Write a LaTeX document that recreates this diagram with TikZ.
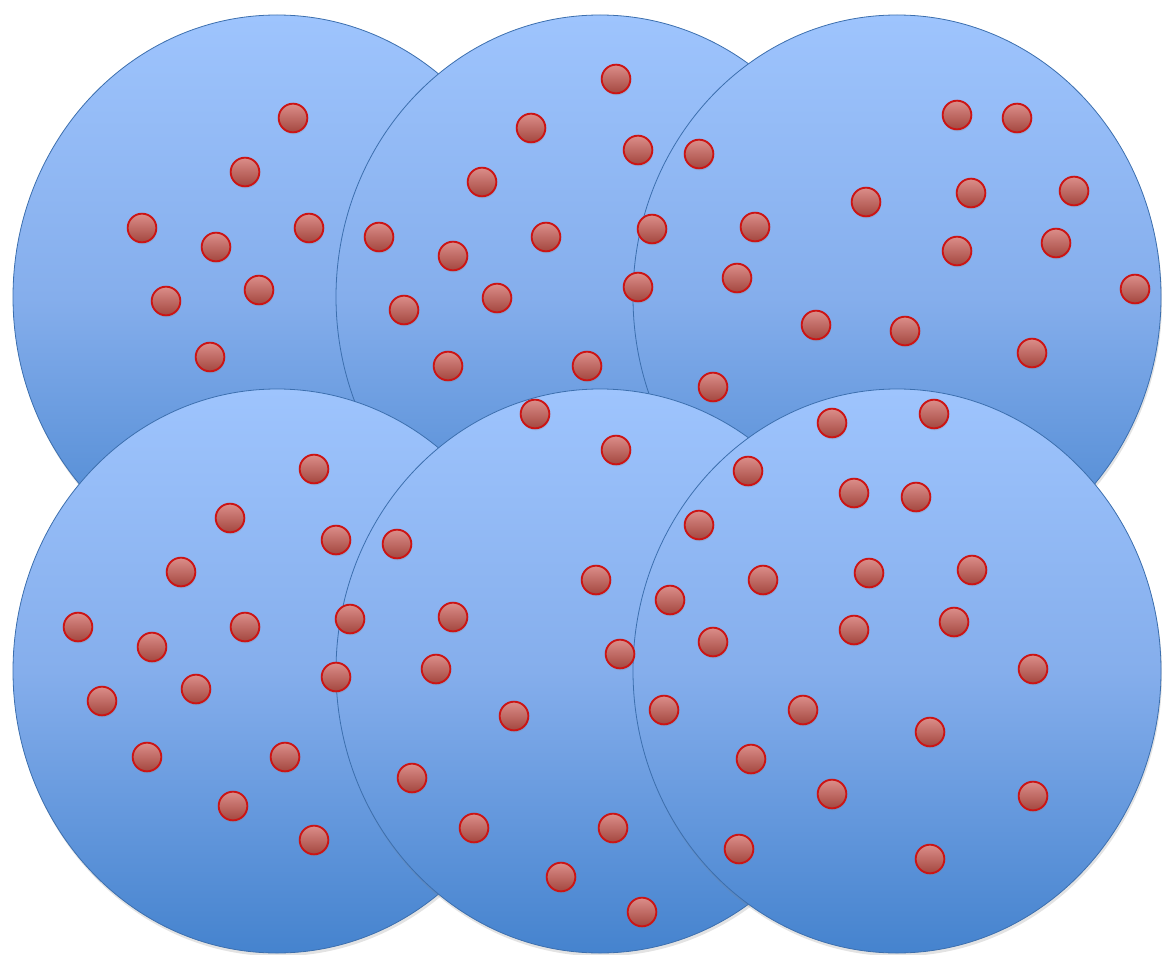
\documentclass[tikz,border=0pt]{standalone}
\usetikzlibrary{shapes.geometric,shadows}
\definecolor{blobtop}{HTML}{9EC4FD}
\definecolor{blobmid}{HTML}{85AEEC}
\definecolor{blobbot}{HTML}{4583CE}
\definecolor{blobline}{HTML}{3C6FAE}
\definecolor{dottop}{HTML}{DC8E8A}
\definecolor{dotbot}{HTML}{A3473F}
\definecolor{dotline}{HTML}{CC1414}
\tikzset{
 blob/.style={ellipse, draw=blobline, line width=0.6pt, top color=blobtop, bottom color=blobbot,
   middle color=blobmid,
   minimum width=396pt, minimum height=423pt, inner sep=0pt,
   drop shadow={shadow xshift=0.8pt, shadow yshift=-2.5pt, opacity=0.22}},
 pt/.style={circle, draw=dotline, line width=1.4pt, top color=dottop, bottom color=dotbot,
   minimum size=21.5pt, inner sep=0pt,
   drop shadow={shadow xshift=0.5pt, shadow yshift=-1.5pt, opacity=0.22}}
}
\begin{document}
\begin{tikzpicture}[x=0.75pt,y=-0.75pt]
\useasboundingbox (0,0) rectangle (1162,955);
% big groups
\node[blob] (tl) at (277,297) {};
\node[blob] (tm) at (600,297) {};
\node[blob] (tr) at (897,297) {};
\node[blob] (bl) at (277,671) {};
\node[blob] (bm) at (600,671) {};
\node[blob] (br) at (897,671) {};
% dots
\foreach \p [count=\i] in {
 % top-left
 (293,118),(245,172),(142,228),(216,247),(309,228),(166,301),(259,290),(210,357),
 % top-middle
 (616,79),(531,128),(638,150),(482,182),(379,237),(453,256),(546,237),(652,229),
 (404,310),(497,298),(638,287),(448,366),(587,366),
 % top-right
 (957,115),(1017,118),(699,154),(866,202),(971,193),(1074,191),(755,227),(1056,243),
 (957,251),(737,278),(1135,289),(816,325),(905,331),(1032,353),(713,387),
 % bottom-left
 (314,469),(230,518),(336,540),(181,572),(350,619),(78,627),(245,627),(152,647),
 (336,677),(196,689),(102,701),(147,757),(285,757),(233,806),(314,840),
 % bottom-middle
 (535,414),(616,450),(397,544),(596,580),(453,617),(620,654),(436,669),(514,716),
 (412,778),(474,828),(613,828),(561,877),(642,912),
 % bottom-right
 (832,423),(934,414),(748,471),(854,493),(916,497),(699,525),(763,580),(869,573),
 (972,570),(670,600),(854,630),(954,622),(713,642),(1033,669),(664,710),(803,710),
 (930,732),(751,759),(832,794),(1033,796),(739,849),(930,859)}
 \node[pt] (d\i) at \p {};
\end{tikzpicture}
\end{document}
